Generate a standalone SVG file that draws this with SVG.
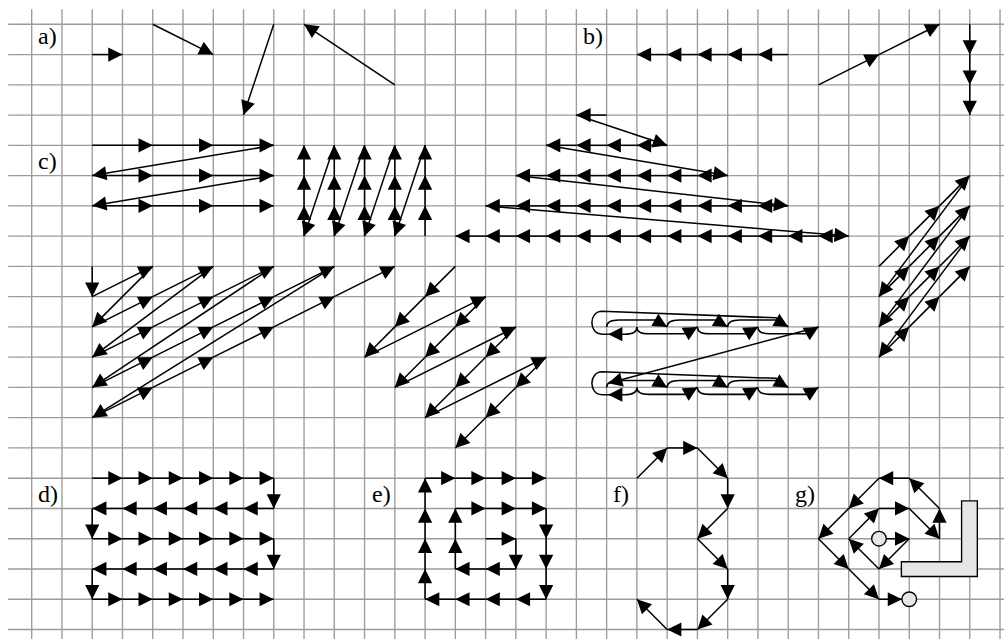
<svg xmlns="http://www.w3.org/2000/svg" width="1004" height="639" viewBox="0 0 1004 639">
<style>
.gr{stroke:#9c9c9c;stroke-width:0.045;fill:none}
.ar path{fill:none;stroke:#000;stroke-width:0.05;marker-end:url(#h)}
.ar path.nm{marker-end:none}
.sh{fill:#e6e6e6;stroke:#000;stroke-width:0.045}
.lb{font-family:'Liberation Serif','DejaVu Serif','Times New Roman',serif;font-size:24px;fill:#000}
</style>
<defs>
<marker id="h" markerUnits="strokeWidth" markerWidth="10" markerHeight="10" refX="9.4" refY="4.7" orient="auto" overflow="visible">
<path d="M0 0L9.4 4.7L0 9.4z" style="fill:#000;stroke:none"/>
</marker>
</defs>
<rect width="1004" height="639" fill="#fff"/>
<g transform="translate(31.7,24.3) scale(30.26)">
<g id="grid">
<path class="gr" d="M0 -0.5V20.4M1 -0.5V20.4M2 -0.5V20.4M3 -0.5V20.4M4 -0.5V20.4M5 -0.5V20.4M6 -0.5V20.4M7 -0.5V20.4M8 -0.5V20.4M9 -0.5V20.4M10 -0.5V20.4M11 -0.5V20.4M12 -0.5V20.4M13 -0.5V20.4M14 -0.5V20.4M15 -0.5V20.4M16 -0.5V20.4M17 -0.5V20.4M18 -0.5V20.4M19 -0.5V20.4M20 -0.5V20.4M21 -0.5V20.4M22 -0.5V20.4M23 -0.5V20.4M24 -0.5V20.4M25 -0.5V20.4M26 -0.5V20.4M27 -0.5V20.4M28 -0.5V20.4M29 -0.5V20.4M30 -0.5V20.4M31 -0.5V20.4M32 -0.5V20.4"/>
<path class="gr" d="M-0.78 0H32.2M-0.78 1H32.2M-0.78 2H32.2M-0.78 3H32.2M-0.78 4H32.2M-0.78 5H32.2M-0.78 6H32.2M-0.78 7H32.2M-0.78 8H32.2M-0.78 9H32.2M-0.78 10H32.2M-0.78 11H32.2M-0.78 12H32.2M-0.78 13H32.2M-0.78 14H32.2M-0.78 15H32.2M-0.78 16H32.2M-0.78 17H32.2M-0.78 18H32.2M-0.78 19H32.2M-0.78 20H32.2"/>
</g>
<g id="connectors">
<g id="part-a" class="ar">
<path d="M2 1H3"/><path d="M4 0L6 1"/><path d="M8 0L7 3"/><path d="M12 2L9 0"/>
</g>
<g id="part-b" class="ar">
<path d="M25 1H24"/><path d="M24 1H23"/><path d="M23 1H22"/><path d="M22 1H21"/><path d="M21 1H20"/>
<path d="M26 2L28 1"/><path d="M28 1L30 0"/>
<path d="M31 0V1"/><path d="M31 1V2"/><path d="M31 2V3"/>
</g>
<g id="part-c1" class="ar">
<path d="M2 4H4"/><path d="M4 4H6"/><path d="M6 4H8"/><path d="M8 4L2 5"/>
<path d="M2 5H4"/><path d="M4 5H6"/><path d="M6 5H8"/><path d="M8 5L2 6"/>
<path d="M2 6H4"/><path d="M4 6H6"/><path d="M6 6H8"/>
</g>
<g id="part-c2" class="ar">
<path d="M13 7V6"/><path d="M13 6V5"/><path d="M13 5V4"/><path d="M13 4L12 7"/>
<path d="M12 7V6"/><path d="M12 6V5"/><path d="M12 5V4"/><path d="M12 4L11 7"/>
<path d="M11 7V6"/><path d="M11 6V5"/><path d="M11 5V4"/><path d="M11 4L10 7"/>
<path d="M10 7V6"/><path d="M10 6V5"/><path d="M10 5V4"/><path d="M10 4L9 7"/>
<path d="M9 7V6"/><path d="M9 6V5"/><path d="M9 5V4"/>
</g>
<g id="part-c3" class="ar">
<path d="M19 3H18"/><path d="M18 3L21 4"/>
<path d="M21 4H20"/><path d="M20 4H19"/><path d="M19 4H18"/><path d="M18 4H17"/>
<path d="M17 4L23 5"/>
<path d="M23 5H22"/><path d="M22 5H21"/><path d="M21 5H20"/><path d="M20 5H19"/><path d="M19 5H18"/><path d="M18 5H17"/><path d="M17 5H16"/>
<path d="M16 5L25 6"/>
<path d="M25 6H24"/><path d="M24 6H23"/><path d="M23 6H22"/><path d="M22 6H21"/><path d="M21 6H20"/><path d="M20 6H19"/><path d="M19 6H18"/><path d="M18 6H17"/><path d="M17 6H16"/><path d="M16 6H15"/>
<path d="M15 6L27 7"/>
<path d="M27 7H26"/><path d="M26 7H25"/><path d="M25 7H24"/><path d="M24 7H23"/><path d="M23 7H22"/><path d="M22 7H21"/><path d="M21 7H20"/><path d="M20 7H19"/><path d="M19 7H18"/><path d="M18 7H17"/><path d="M17 7H16"/><path d="M16 7H15"/><path d="M15 7H14"/>
</g>
<g id="part-c4" class="ar">
<path d="M28 8L29 7"/><path d="M29 7L30 6"/><path d="M30 6L31 5"/><path d="M31 5L28 9"/>
<path d="M28 9L29 8"/><path d="M29 8L30 7"/><path d="M30 7L31 6"/><path d="M31 6L28 10"/>
<path d="M28 10L29 9"/><path d="M29 9L30 8"/><path d="M30 8L31 7"/><path d="M31 7L28 11"/>
<path d="M28 11L29 10"/><path d="M29 10L30 9"/><path d="M30 9L31 8"/>
</g>
<g id="part-c5" class="ar">
<path d="M2 8V9"/><path d="M2 9L4 8"/><path d="M4 8L2 10"/>
<path d="M2 10L4 9"/><path d="M4 9L6 8"/><path d="M6 8L2 11"/>
<path d="M2 11L4 10"/><path d="M4 10L6 9"/><path d="M6 9L8 8"/><path d="M8 8L2 12"/>
<path d="M2 12L4 11"/><path d="M4 11L6 10"/><path d="M6 10L8 9"/><path d="M8 9L10 8"/><path d="M10 8L2 13"/>
<path d="M2 13L4 12"/><path d="M4 12L6 11"/><path d="M6 11L8 10"/><path d="M8 10L10 9"/><path d="M10 9L12 8"/>
</g>
<g id="part-c6" class="ar">
<path d="M14 8L13 9"/><path d="M13 9L12 10"/><path d="M12 10L11 11"/><path d="M11 11L15 9"/>
<path d="M15 9L14 10"/><path d="M14 10L13 11"/><path d="M13 11L12 12"/><path d="M12 12L16 10"/>
<path d="M16 10L15 11"/><path d="M15 11L14 12"/><path d="M14 12L13 13"/><path d="M13 13L17 11"/>
<path d="M17 11L16 12"/><path d="M16 12L15 13"/><path d="M15 13L14 14"/>
</g>
<g id="part-c7" class="ar">
<path d="M19 10Q19 9.77 19.4 9.77L20.6 9.77L21 10"/>
<path d="M21 10Q21 9.77 21.4 9.77L22.6 9.77L23 10"/>
<path d="M23 10Q23 9.77 23.4 9.77L24.6 9.77L25 10"/>
<path d="M20 10Q20 10.23 20.4 10.23L21.6 10.23L22 10"/>
<path d="M22 10Q22 10.23 22.4 10.23L23.6 10.23L24 10"/>
<path d="M24 10Q24 10.23 24.4 10.23L25.6 10.23L26 10"/>
<path d="M20 10Q20 10.24 19.6 10.24L19.05 10.24"/>
<path class="nm" d="M19.05 10.24L18.85 10.24C18.4 10.24 18.4 9.485 18.85 9.485L24.6 9.7L25 10"/>
<path d="M26 10L19.05 11.86"/>
<path d="M19 12Q19 11.77 19.4 11.77L20.6 11.77L21 12"/>
<path d="M21 12Q21 11.77 21.4 11.77L22.6 11.77L23 12"/>
<path d="M23 12Q23 11.77 23.4 11.77L24.6 11.77L25 12"/>
<path d="M20 12Q20 12.23 20.4 12.23L21.6 12.23L22 12"/>
<path d="M22 12Q22 12.23 22.4 12.23L23.6 12.23L24 12"/>
<path d="M24 12Q24 12.23 24.4 12.23L25.6 12.23L26 12"/>
<path d="M20 12Q20 12.24 19.6 12.24L19.05 12.24"/>
<path class="nm" d="M19.05 12.24L18.85 12.24C18.4 12.24 18.4 11.485 18.85 11.485L24.6 11.7L25 12"/>
</g>
<g id="part-d" class="ar">
<path d="M2 15H3"/><path d="M3 15H4"/><path d="M4 15H5"/><path d="M5 15H6"/><path d="M6 15H7"/><path d="M7 15H8"/><path d="M8 15V16"/>
<path d="M8 16H7"/><path d="M7 16H6"/><path d="M6 16H5"/><path d="M5 16H4"/><path d="M4 16H3"/><path d="M3 16H2"/><path d="M2 16V17"/>
<path d="M2 17H3"/><path d="M3 17H4"/><path d="M4 17H5"/><path d="M5 17H6"/><path d="M6 17H7"/><path d="M7 17H8"/><path d="M8 17V18"/>
<path d="M8 18H7"/><path d="M7 18H6"/><path d="M6 18H5"/><path d="M5 18H4"/><path d="M4 18H3"/><path d="M3 18H2"/><path d="M2 18V19"/>
<path d="M2 19H3"/><path d="M3 19H4"/><path d="M4 19H5"/><path d="M5 19H6"/><path d="M6 19H7"/><path d="M7 19H8"/>
</g>
<g id="part-e" class="ar">
<path d="M15 17H16"/><path d="M16 17V18"/><path d="M16 18H15"/><path d="M15 18H14"/>
<path d="M14 18V17"/><path d="M14 17V16"/>
<path d="M14 16H15"/><path d="M15 16H16"/><path d="M16 16H17"/>
<path d="M17 16V17"/><path d="M17 17V18"/><path d="M17 18V19"/>
<path d="M17 19H16"/><path d="M16 19H15"/><path d="M15 19H14"/><path d="M14 19H13"/>
<path d="M13 19V18"/><path d="M13 18V17"/><path d="M13 17V16"/><path d="M13 16V15"/>
<path d="M13 15H14"/><path d="M14 15H15"/><path d="M15 15H16"/><path d="M16 15H17"/>
</g>
<g id="part-f" class="ar">
<path d="M20 15L21 14"/><path d="M21 14H22"/><path d="M22 14L23 15"/><path d="M23 15V16"/>
<path d="M23 16L22 17"/><path d="M22 17L23 18"/><path d="M23 18V19"/><path d="M23 19L22 20"/>
<path d="M22 20H21"/><path d="M21 20L20 19"/>
</g>
<g id="part-g" class="ar">
<path d="M28.24 17H29"/><path d="M29 17L28 18"/><path d="M28 18L27 17"/><path d="M27 17L28 16"/>
<path d="M28 16H29"/><path d="M29 16L30 17"/><path d="M30 17V16"/><path d="M30 16L29 15"/>
<path d="M29 15H28"/><path d="M28 15L27 16"/><path d="M27 16L26 17"/><path d="M26 17L27 18"/>
<path d="M27 18L28 19"/><path d="M28 19H28.76"/>
</g>
</g>
<g id="g-shapes">
<circle class="sh" cx="28" cy="17" r="0.241"/>
<circle class="sh" cx="29" cy="19" r="0.241"/>
<path class="sh" d="M30.73 15.75H31.25V18.25H28.74V17.76H30.73z"/>
</g>
</g>
<g id="labels" class="lb" font-family="'Liberation Serif','DejaVu Serif',serif">
<text x="38" y="44">a)</text>
<text x="583" y="44">b)</text>
<text x="38" y="169">c)</text>
<text x="38" y="502">d)</text>
<text x="372" y="502">e)</text>
<text x="613" y="502">f)</text>
<text x="795" y="502">g)</text>
</g>
</svg>
